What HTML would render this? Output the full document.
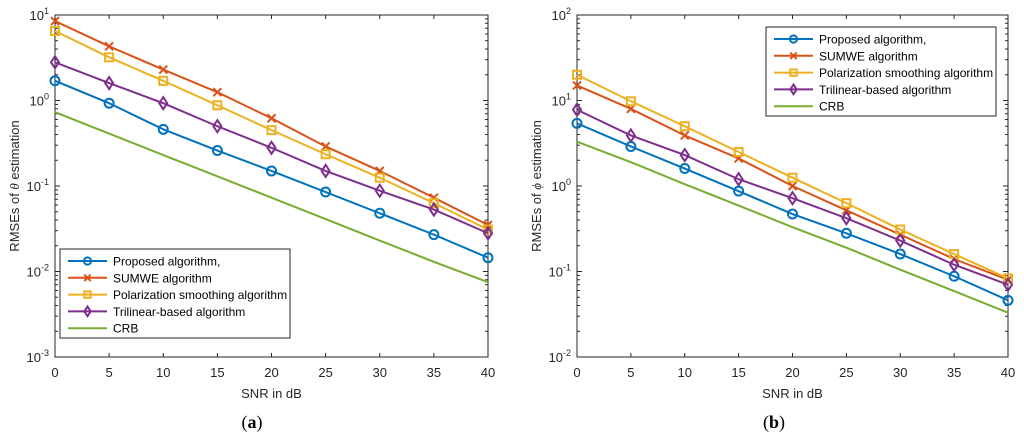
<!DOCTYPE html>
<html><head><meta charset="utf-8"><style>
body{margin:0;background:#fff}
svg{display:block;font-family:"Liberation Sans",sans-serif}
</style></head><body>
<svg id="fig" width="1024" height="440" viewBox="0 0 1024 440" xmlns="http://www.w3.org/2000/svg"></svg>
<script>
const snr=[0,5,10,15,20,25,30,35,40];
const xTicks=[0,5,10,15,20,25,30,35,40];
const seriesNames=["Proposed algorithm,","SUMWE algorithm","Polarization smoothing algorithm","Trilinear-based algorithm","CRB"];
const thetaProposed=[1.7,0.93,0.46,0.26,0.15,0.085,0.048,0.027,0.0145];
const thetaSumwe=[8.5,4.3,2.3,1.25,0.62,0.29,0.15,0.073,0.035];
const thetaPolar=[6.5,3.2,1.7,0.88,0.45,0.235,0.125,0.063,0.031];
const thetaTri=[2.8,1.6,0.93,0.5,0.28,0.15,0.088,0.053,0.028];
const thetaCrb=[0.73,0.41,0.23,0.13,0.073,0.041,0.023,0.013,0.0075];
const phiProposed=[5.4,2.9,1.6,0.87,0.47,0.28,0.16,0.088,0.046];
const phiSumwe=[15,8,3.9,2.1,1.0,0.52,0.27,0.14,0.08];
const phiPolar=[20,9.8,5.0,2.5,1.25,0.63,0.31,0.16,0.083];
const phiTri=[7.8,3.9,2.3,1.2,0.72,0.42,0.23,0.12,0.07];
const phiCrb=[3.3,1.9,1.05,0.59,0.33,0.19,0.105,0.059,0.033];
const thetaDecades=[-3,-2,-1,0,1];
const phiDecades=[-2,-1,0,1,2];

const NS="http://www.w3.org/2000/svg";
const svg=document.getElementById('fig');
const colors=["#0072BD","#D95319","#EDB120","#7E2F8E","#77AC30"];
const markers=["o","x","s","d",""];
function el(t,a,p){const e=document.createElementNS(NS,t);for(const k in a)e.setAttribute(k,a[k]);(p||svg).appendChild(e);return e;}

function marker(g,type,x,y,c,s){
  s=s||1;let m;
  if(type==="o")m=el('circle',{cx:x,cy:y,r:4.5*s,fill:'none',stroke:c,'stroke-width':2},g);
  else if(type==="x")m=el('path',{d:`M${x-4*s},${y-4*s}L${x+4*s},${y+4*s}M${x-4*s},${y+4*s}L${x+4*s},${y-4*s}`,stroke:c,'stroke-width':2},g);
  else if(type==="s")m=el('rect',{x:x-4*s,y:y-4*s,width:8*s,height:8*s,fill:'none',stroke:c,'stroke-width':2},g);
  else if(type==="d")m=el('path',{d:`M${x},${y-6*s}L${x+4*s},${y}L${x},${y+6*s}L${x-4*s},${y}Z`,fill:'none',stroke:c,'stroke-width':2},g);
  if(m){}
}

function panel(L,R,T,B,decs,series,ysym,legX,legY,tag,tagX,id){
  const g=el('g',{});
  
  
  const lo=decs[0],hi=decs[decs.length-1];
  const xs=v=>L+(v-xTicks[0])/(xTicks[xTicks.length-1]-xTicks[0])*(R-L);
  const ys=v=>B-(Math.log10(v)-lo)/(hi-lo)*(B-T);
  const box=el('rect',{x:L,y:T,width:R-L,height:B-T,fill:'#fff',stroke:'#262626','stroke-width':1},g);
  
  
  xTicks.forEach(t=>{
    const x=xs(t);
    el('line',{x1:x,y1:B,x2:x,y2:B-4,stroke:'#262626'},g);
    el('line',{x1:x,y1:T,x2:x,y2:T+4,stroke:'#262626'},g);
    const tx=el('text',{x:x,y:B+20,'text-anchor':'middle','font-size':13,fill:'#262626'},g);
    tx.textContent=t;
    
    
  });
  decs.forEach((d,i)=>{
    const y=B-i*(B-T)/(decs.length-1);
    el('line',{x1:L,y1:y,x2:L+5,y2:y,stroke:'#262626'},g);
    el('line',{x1:R,y1:y,x2:R-5,y2:y,stroke:'#262626'},g);
    const tx=el('text',{x:L-6,y:y+5,'text-anchor':'end','font-size':13,fill:'#262626'},g);
    tx.innerHTML='10<tspan dy="-6" font-size="9">'+d+'</tspan>';
    
    
    if(i<decs.length-1){for(let k=2;k<10;k++){const yy=B-(i+Math.log10(k))*(B-T)/(decs.length-1);
      el('line',{x1:L,y1:yy,x2:L+3,y2:yy,stroke:'#262626'},g);el('line',{x1:R,y1:yy,x2:R-3,y2:yy,stroke:'#262626'},g);}}
  });
  series.forEach((s,i)=>{
    const sg=el('g',{},g);
    
    
    const pl=el('polyline',{points:s.map((v,j)=>xs(snr[j])+','+ys(v)).join(' '),fill:'none',stroke:colors[i],'stroke-width':2},sg);
    
    
    s.forEach((v,j)=>marker(sg,markers[i],xs(snr[j]),ys(v),colors[i]));
  });
  const xl=el('text',{x:(L+R)/2,y:B+41,'text-anchor':'middle','font-size':13,fill:'#262626'},g);
  xl.textContent='SNR in dB';
  
  
  const yl=el('text',{x:0,y:0,'text-anchor':'middle','font-size':13,fill:'#262626',transform:`translate(${L-36},${(T+B)/2}) rotate(-90)`},g);
  yl.innerHTML='RMSEs of <tspan font-family="Liberation Serif" font-style="italic">'+ysym+'</tspan> estimation';
  
  
  const lg=el('g',{},g);
  
  
  el('rect',{x:legX,y:legY,width:230,height:89,fill:'#fff',stroke:'#262626','stroke-width':1},lg);
  seriesNames.forEach((n,i)=>{
    const e=el('g',{},lg);
    
    
    const y=legY+12+i*16.8;
    el('line',{x1:legX+8,y1:y,x2:legX+47,y2:y,stroke:colors[i],'stroke-width':2},e);
    marker(e,markers[i],legX+27.5,y,colors[i],0.8);
    const t=el('text',{x:legX+53,y:y+4.5,'font-size':12,fill:'#000'},e);
    t.textContent=n;
  });
  const tg=el('text',{x:tagX,y:428,'text-anchor':'middle','font-size':18,fill:'#000','font-family':'Liberation Serif'},g);
  tg.innerHTML='(<tspan font-weight="bold">'+tag+'</tspan>)';
  
  
}
panel(55,488,15,357,thetaDecades,[thetaProposed,thetaSumwe,thetaPolar,thetaTri,thetaCrb],'θ',60,249,'a',252,'theta');
panel(577,1008,15,357,phiDecades,[phiProposed,phiSumwe,phiPolar,phiTri,phiCrb],'ϕ',766,27,'b',774,'phi');
</script>
</body></html>
